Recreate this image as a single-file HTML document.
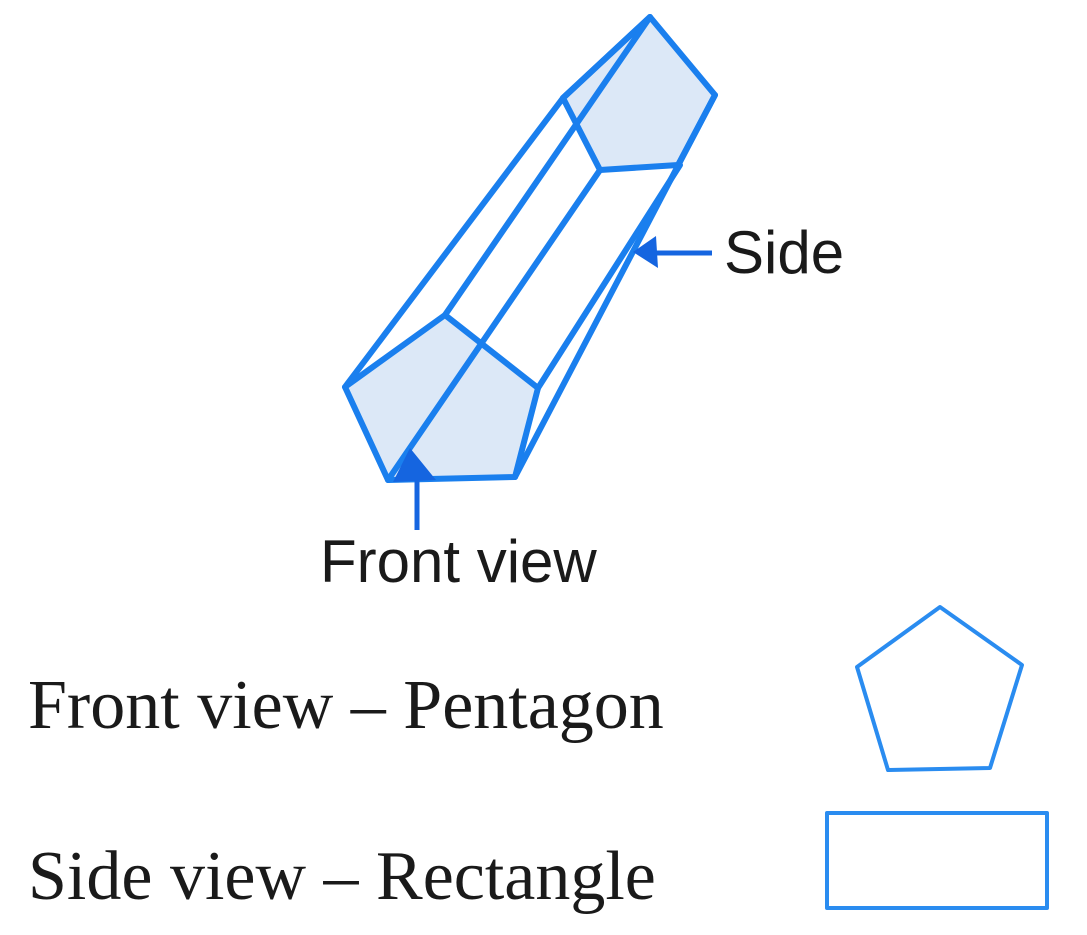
<!DOCTYPE html>
<html><head><style>
body{margin:0;background:#fff;width:1087px;height:935px;overflow:hidden}
svg{display:block}
</style></head><body>
<svg width="1087" height="935" xmlns="http://www.w3.org/2000/svg">
<g stroke="#1a7fee" stroke-width="6" stroke-linejoin="round" stroke-linecap="round" fill="none">
<polygon points="650,17 715,95 678,165 600,170 563,98" fill="#dce8f7"/>
<polygon points="445,315 345,387 388,480 515,477 538,388" fill="#dce8f7"/>
<line x1="345" y1="387" x2="563" y2="98"/>
<line x1="563" y1="98" x2="650" y2="17"/>
<line x1="388" y1="480" x2="600" y2="170"/>
<line x1="445" y1="315" x2="650" y2="17"/>
<line x1="538" y1="388" x2="680" y2="165"/>
<line x1="515" y1="477" x2="715" y2="95"/>
</g>
<g fill="#1565e0" stroke="#1565e0">
<line x1="712" y1="253" x2="650" y2="253" stroke-width="5"/>
<polygon points="633,252 656,236 658,268" stroke="none"/>
<line x1="417" y1="530" x2="417" y2="478" stroke-width="5"/>
<polygon points="410,448 393,482 436,480" stroke="none"/>
</g>
<text x="724" y="273" font-family="Liberation Sans, sans-serif" font-size="60" fill="#1a1a1a">Side</text>
<text x="320" y="582" font-family="Liberation Sans, sans-serif" font-size="60" fill="#1a1a1a">Front view</text>
<text x="28" y="728" font-family="Liberation Serif, serif" font-size="70" fill="#1a1a1a">Front view – Pentagon</text>
<text x="28" y="899" font-family="Liberation Serif, serif" font-size="70" fill="#1a1a1a">Side view – Rectangle</text>
<g stroke="#2a8cf0" stroke-width="4" fill="none" stroke-linejoin="round">
<polygon points="940,607 1022,665 990,768 888,770 857,667"/>
<rect x="827" y="813" width="220" height="95"/>
</g>
</svg>
</body></html>
